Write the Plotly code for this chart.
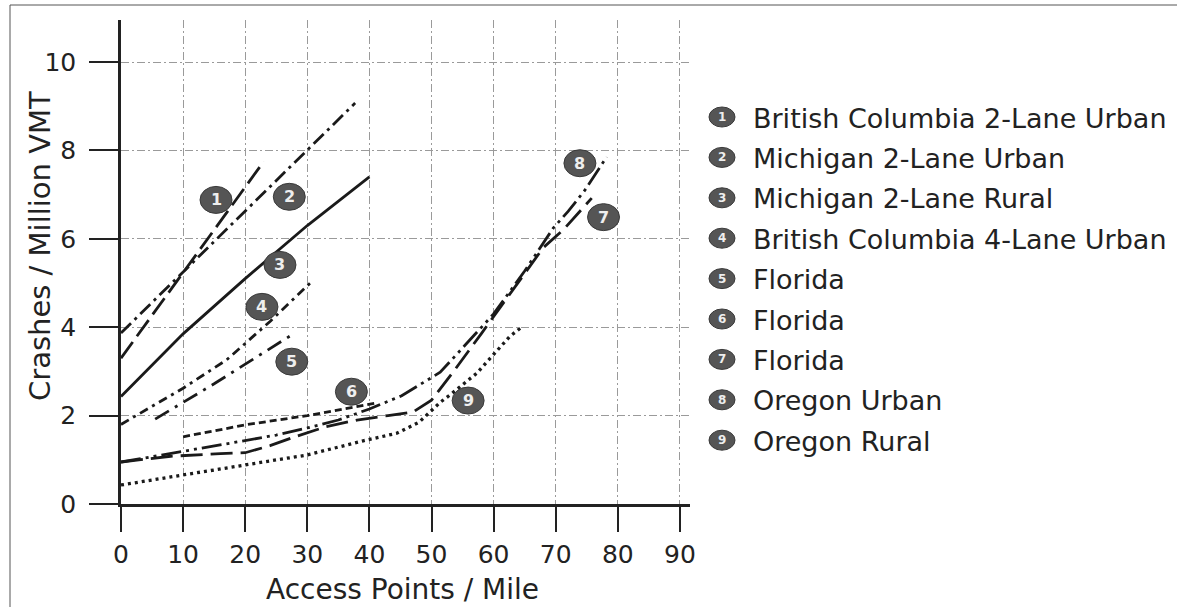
import plotly.graph_objects as go

# ---------------- data ----------------
names = ["British Columbia 2-Lane Urban", "Michigan 2-Lane Urban", "Michigan 2-Lane Rural",
         "British Columbia 4-Lane Urban", "Florida", "Florida", "Florida",
         "Oregon Urban", "Oregon Rural"]

s1_x = [0, 23]
s1_y = [3.3, 7.75]
s2_x = [0, 37.7]
s2_y = [3.87, 9.07]
s3_x = [0, 10, 20, 30, 40]
s3_y = [2.43, 3.85, 5.1, 6.3, 7.4]
s4_x = [0, 10, 17, 24, 31]
s4_y = [1.8, 2.62, 3.26, 4.13, 5.07]
s5_x = [5.5, 15, 27.2]
s5_y = [1.92, 2.72, 3.8]
s6_x = [10, 20, 30, 36, 41]
s6_y = [1.52, 1.79, 2.0, 2.16, 2.28]
s7_x = [0, 8, 16, 20, 24, 28, 33, 38, 43, 47, 50, 53.5, 58, 63, 68, 71.2, 75.8]
s7_y = [0.95, 1.08, 1.14, 1.16, 1.32, 1.52, 1.75, 1.9, 2.0, 2.08, 2.35, 2.99, 3.85, 4.82, 5.8, 6.2, 6.92]
s8_x = [0, 5, 11, 15, 19, 25, 30, 35, 40, 45.2, 51.4, 55, 60, 65, 69.6, 72, 74.7, 78.2]
s8_y = [0.95, 1.07, 1.22, 1.3, 1.41, 1.56, 1.72, 1.9, 2.15, 2.45, 2.98, 3.53, 4.3, 5.27, 6.24, 6.62, 7.1, 7.85]
s9_x = [0, 10, 20, 30, 39, 44.4, 48, 51.4, 53, 57.3, 62.6, 64.5]
s9_y = [0.43, 0.66, 0.88, 1.11, 1.43, 1.6, 1.85, 2.3, 2.47, 2.96, 3.79, 4.0]

series_x = [s1_x, s2_x, s3_x, s4_x, s5_x, s6_x, s7_x, s8_x, s9_x]
series_y = [s1_y, s2_y, s3_y, s4_y, s5_y, s6_y, s7_y, s8_y, s9_y]

label_x = [15.3, 27.1, 25.6, 22.7, 27.5, 37.1, 77.7, 73.9, 55.9]
label_y = [6.88, 6.95, 5.41, 4.46, 3.22, 2.54, 6.49, 7.71, 2.34]

x_ticks = [0, 10, 20, 30, 40, 50, 60, 70, 80, 90]
y_ticks = [0, 2, 4, 6, 8, 10]

# ---------------- styles ----------------
dashes = ["20px,7px", "14px,5px,3px,5px", "solid", "9px,5px,3px,5px", "16px,7px,3px,7px",
          "7px,4px", "22px,8px", "20px,5px,3px,5px,3px,5px", "3px,4px"]
widths = [2.8, 2.8, 2.8, 2.8, 2.8, 2.8, 2.8, 2.8, 3.3]
INK = "#1a1a1a"
BADGE = "#555555"
FONT = "DejaVu Sans"
W, H = 1177, 607

fig = go.Figure()
for i in range(len(names)):
    fig.add_trace(go.Scatter(x=series_x[i], y=series_y[i], mode="lines", name=names[i],
                             line=dict(color=INK, width=widths[i], dash=dashes[i]),
                             showlegend=False, hoverinfo="skip"))

shapes = []
annotations = []

# number badges on the chart
for i, (lx, ly) in enumerate(zip(label_x, label_y)):
    shapes.append(dict(type="circle", xref="x", yref="y", xsizemode="pixel", ysizemode="pixel",
                       xanchor=lx, yanchor=ly, x0=-16, x1=16, y0=-13.5, y1=13.5,
                       fillcolor=BADGE, line=dict(color="#3a3a3a", width=1), layer="above"))
    annotations.append(dict(x=lx, y=ly, xref="x", yref="y", text=str(i + 1), showarrow=False,
                            font=dict(family=FONT, size=16, color="#eeeeee", weight="bold")))

# legend (drawn by hand, in pixel positions converted to paper)
def px(xp):
    return xp / W

def py(yp):
    return 1 - yp / H

leg_top = 117
leg_step = 40.4
for i, name in enumerate(names):
    cy = leg_top + i * leg_step
    shapes.append(dict(type="circle", xref="paper", yref="paper",
                       x0=px(722 - 13), x1=px(722 + 13), y0=py(cy + 10), y1=py(cy - 10),
                       fillcolor=BADGE, line=dict(color="#3a3a3a", width=1)))
    annotations.append(dict(x=px(722), y=py(cy), xref="paper", yref="paper", text=str(i + 1),
                            showarrow=False, xanchor="center", yanchor="middle",
                            font=dict(family=FONT, size=12, color="#eeeeee", weight="bold")))
    annotations.append(dict(x=px(751), y=py(cy + 1), xref="paper", yref="paper", text=name,
                            showarrow=False, xanchor="left", yanchor="middle",
                            font=dict(family=FONT, size=27, color="#222222")))

# axis titles
annotations.append(dict(x=px(403), y=py(589), xref="paper", yref="paper", text="Access Points / Mile",
                        showarrow=False, xanchor="center", yanchor="middle",
                        font=dict(family=FONT, size=28, color="#222222")))
annotations.append(dict(x=px(40), y=py(246), xref="paper", yref="paper", text="Crashes / Million VMT",
                        showarrow=False, xanchor="center", yanchor="middle", textangle=-90,
                        font=dict(family=FONT, size=29, color="#222222")))

# outer frame (left & top edges visible)
shapes.append(dict(type="line", xref="paper", yref="paper", x0=px(10), x1=px(10), y0=py(5), y1=py(607),
                   line=dict(color="#555555", width=1)))
shapes.append(dict(type="line", xref="paper", yref="paper", x0=px(10), x1=px(1177), y0=py(5), y1=py(5),
                   line=dict(color="#555555", width=1)))

x0px, x1px = 121, 690
y0px, y1px = 504, 20
xunit = 6.21   # px per access point
yunit = 44.2   # px per crash unit

fig.update_layout(
    width=W, height=H,
    margin=dict(l=0, r=0, t=0, b=0, pad=0, autoexpand=False),
    paper_bgcolor="white", plot_bgcolor="white",
    showlegend=False,
    shapes=shapes, annotations=annotations,
    xaxis=dict(domain=[x0px / W, x1px / W], range=[0, (x1px - x0px) / xunit], automargin=False,
               tickvals=x_ticks, ticks="outside", ticklen=25, tickwidth=2, tickcolor="#222222",
               showline=True, linewidth=2.5, linecolor="#222222", zeroline=False,
               showgrid=True, gridcolor="#9a9a9a", gridwidth=1, griddash="8px,3px,2px,3px",
               tickfont=dict(family=FONT, size=25, color="#222222"), ticklabelstandoff=1,
               fixedrange=True),
    yaxis=dict(domain=[1 - y0px / H, 1 - y1px / H], range=[0, (y0px - y1px) / yunit], automargin=False,
               tickvals=y_ticks, ticks="outside", ticklen=29, tickwidth=2, tickcolor="#222222",
               showline=True, linewidth=2.5, linecolor="#222222", zeroline=False,
               showgrid=True, gridcolor="#9a9a9a", gridwidth=1, griddash="8px,3px,2px,3px",
               tickfont=dict(family=FONT, size=25, color="#222222"), ticklabelstandoff=8,
               fixedrange=True),
)

fig.write_html("out.html", config={"displayModeBar": False},
               post_script="document.body.style.margin='0';document.body.style.overflow='hidden';")
